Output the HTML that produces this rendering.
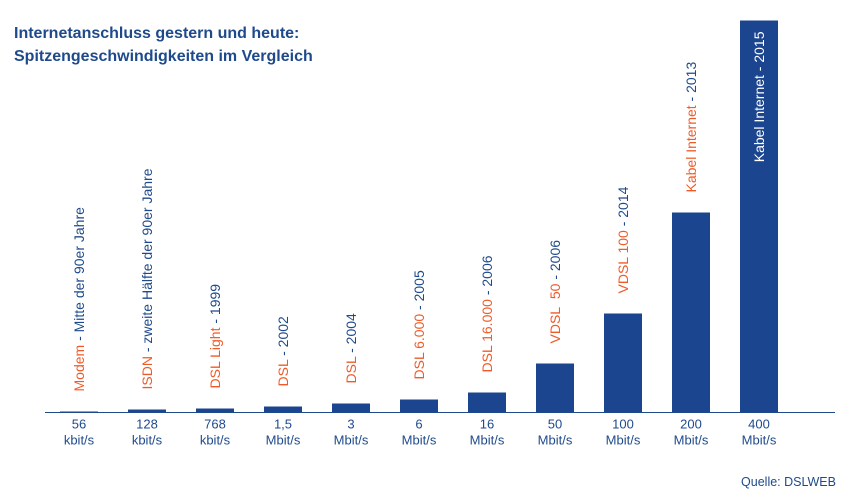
<!DOCTYPE html>
<html><head><meta charset="utf-8"><style>
html,body{margin:0;padding:0;background:#fff;}
svg{display:block;font-family:"Liberation Sans",Arial,sans-serif;}
</style></head><body>
<svg id="chart" width="850" height="500">
<text x="14" y="38" font-size="16" font-weight="bold" fill="#1e4a8c">Internetanschluss gestern und heute:</text>
<text x="14" y="61" font-size="16" font-weight="bold" fill="#1e4a8c">Spitzengeschwindigkeiten im Vergleich</text>
<g id="bars"></g>
<line x1="45" y1="412.5" x2="835" y2="412.5" stroke="#1e4a8c" stroke-width="1"/>
<text x="836" y="486" font-size="12.5" fill="#1e4a8c" text-anchor="end">Quelle: DSLWEB</text>
</svg>
<script>
const speedNum = ["56","128","768","1,5","3","6","16","50","100","200","400"];
const speedUnit = ["kbit/s","kbit/s","kbit/s","Mbit/s","Mbit/s","Mbit/s","Mbit/s","Mbit/s","Mbit/s","Mbit/s","Mbit/s"];
const techNames = ["Modem","ISDN","DSL Light","DSL","DSL","DSL 6.000","DSL 16.000","VDSL\u00a0\u00a050","VDSL 100","Kabel Internet","Kabel Internet - 2015"];
const techYears = [" - Mitte der 90er Jahre"," - zweite Hälfte der 90er Jahre"," - 1999"," - 2002"," - 2004"," - 2005"," - 2006"," - 2006"," - 2014"," - 2013",""];
const values = [1,3,4,6,9,13,20,49,99,200,392];

const NS="http://www.w3.org/2000/svg";
const g=document.getElementById('bars');
const base=412.5, x0=79, step=68, bw=38;
const xS=i=>x0+i*step;
const yS=v=>base-v*1.0;
function mk(t,a){const e=document.createElementNS(NS,t);for(const k in a)e.setAttribute(k,a[k]);return e;}
values.forEach((v,i)=>{
  const cx=xS(i);
  const r=mk('rect',{x:cx-bw/2,y:yS(v),width:bw,height:base-yS(v),fill:'#1b458f'});
  
  
  g.appendChild(r);
  const t1=mk('text',{x:cx,y:base+16,'font-size':13,fill:'#1e4a8c','text-anchor':'middle'});
  t1.textContent=speedNum[i];
  
  
  g.appendChild(t1);
  const t2=mk('text',{x:cx,y:base+32,'font-size':13,fill:'#1e4a8c','text-anchor':'middle'});
  t2.textContent=speedUnit[i];
  
  
  g.appendChild(t2);
  const last=i===values.length-1;
  let ly, anchor;
  if(last){ly=yS(v)+11;anchor='end';}
  else{ly=Math.min(403,yS(v)-20);anchor='start';}
  const lt=mk('text',{x:0,y:0,'font-size':14,'text-anchor':anchor,transform:`translate(${cx+5},${ly}) rotate(-90)`});
  
  
  const s1=mk('tspan',{fill:last?'#ffffff':'#f05a28'});s1.textContent=techNames[i];
  const s2=mk('tspan',{fill:'#1e4a8c'});s2.textContent=techYears[i];
  lt.appendChild(s1);lt.appendChild(s2);
  g.appendChild(lt);
});
</script>
</body></html>
